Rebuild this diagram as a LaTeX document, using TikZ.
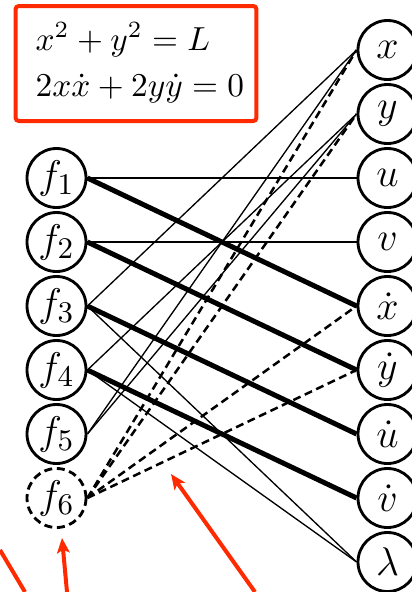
\documentclass[tikz,border=0pt]{standalone}
\usepackage{tikz}
\usetikzlibrary{arrows.meta}
\definecolor{markred}{HTML}{FF2A00}

\begin{document}
\begin{tikzpicture}[x=0.3pt,y=-0.3pt,
  var/.style={circle,draw,line width=0.85pt,minimum size=17.7pt,inner sep=0pt,font=\fontsize{12.5}{14}\selectfont},
  newvar/.style={var,dash pattern=on 2.4pt off 1.4pt},
  match/.style={line width=1.5pt},
  link/.style={line width=0.4pt},
  diff/.style={line width=0.75pt,dash pattern=on 2.4pt off 1.4pt},
  eqbox/.style={draw=markred,line width=1.2pt,rounded corners=1pt,minimum width=72.3pt,minimum height=34.5pt},
  pointer/.style={markred,line width=1.2pt,-{Stealth[length=4.5pt,width=3.8pt,inset=1pt]}}
]
\useasboundingbox (0,0) rectangle (412,592);
% constraint box
\node[eqbox] (box) at (136,63.5) {};
\node[anchor=base west,inner sep=0pt] (eqa) at (35,50) {$x^2+y^2=L$};
\node[anchor=base west,inner sep=0pt] (eqb) at (35,96) {$2x\dot{x}+2y\dot{y}=0$};
% variables
\node[var] (vx) at (387.5,50) {$x$};
\node[var] (vy) at (387.5,114) {$y$};
\node[var] (vu) at (387.5,178) {$u$};
\node[var] (vv) at (387.5,242) {$v$};
\node[var] (vxd) at (387.5,306) {$\dot{x}$};
\node[var] (vyd) at (387.5,370) {$\dot{y}$};
\node[var] (vud) at (387.5,434) {$\dot{u}$};
\node[var] (vvd) at (387.5,498) {$\dot{v}$};
\node[var] (vlam) at (387.5,562) {$\lambda$};
% equations
\node[var] (f1) at (56.5,178) {$f_1$};
\node[var] (f2) at (56.5,242) {$f_2$};
\node[var] (f3) at (56.5,306) {$f_3$};
\node[var] (f4) at (56.5,370) {$f_4$};
\node[var] (f5) at (56.5,434) {$f_5$};
\node[newvar] (f6) at (56.5,498) {$f_6$};
% incidences
\draw[link] (f1.east) -- (vu.west);
\draw[link] (f2.east) -- (vv.west);
\draw[link] (f3.east) -- (vx.west);
\draw[link] (f3.east) -- (vlam.west);
\draw[link] (f4.east) -- (vy.west);
\draw[link] (f4.east) -- (vlam.west);
\draw[link] (f5.east) -- (vx.west);
\draw[link] (f5.east) -- (vy.west);
% matching
\draw[match] (f1.east) -- (vxd.west);
\draw[match] (f2.east) -- (vyd.west);
\draw[match] (f3.east) -- (vud.west);
\draw[match] (f4.east) -- (vvd.west);
% differentiated constraint
\draw[diff] (f6.east) -- (vx.west);
\draw[diff] (f6.east) -- (vy.west);
\draw[diff] (f6.east) -- (vxd.west);
\draw[diff] (f6.east) -- (vyd.west);
% pointers
\coordinate (p0s) at (25,592);
\coordinate (p0e) at (0,550);
\coordinate (p1s) at (67,592);
\coordinate (p1e) at (62,538);
\coordinate (p2s) at (255,592);
\coordinate (p2e) at (171,474);
\draw[markred,line width=1.2pt] (p0s) -- (p0e);
\draw[pointer] (p1s) -- (p1e);
\draw[pointer] (p2s) -- (p2e);
\end{tikzpicture}
\end{document}
